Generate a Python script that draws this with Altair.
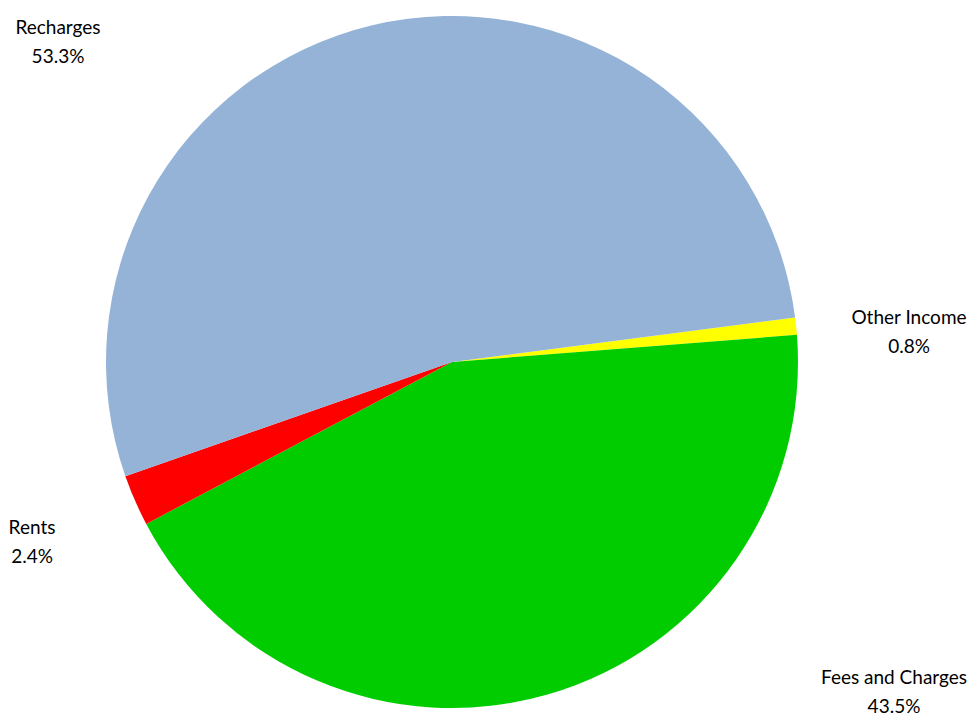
import altair as alt
import pandas as pd

categories = ["Other Income", "Fees and Charges", "Rents", "Recharges"]
shares = [0.8, 43.5, 2.4, 53.3]
colors = ["#FFFF00", "#00CC00", "#FF0000", "#95B3D7"]

df = pd.DataFrame({"category": categories, "share": shares, "order": list(range(len(categories)))})

start = 1.442  # rotation of first slice (radians, clockwise from top)
two_pi = 6.283185307

pie = alt.Chart(df).mark_arc(radius=346, stroke=None).encode(
    theta=alt.Theta("share:Q", stack=True, scale=alt.Scale(range=[start, start + two_pi])),
    order=alt.Order("order:Q"),
    color=alt.Color("category:N", scale=alt.Scale(domain=categories, range=colors), legend=None),
    x=alt.value(444),
    y=alt.value(354),
)

label_pos = {
    "Recharges": (50, 20),
    "Other Income": (901, 310),
    "Rents": (24, 520),
    "Fees and Charges": (886, 670),
}

layers = [pie]
for cat, val in zip(categories, shares):
    px, py = label_pos[cat]
    sub = pd.DataFrame({"txt": [f"{cat}\n{val:.1f}%"]})
    layers.append(
        alt.Chart(sub).mark_text(
            font="Lato", fontSize=19, color="#000000", align="center",
            baseline="middle", lineBreak="\n", lineHeight=29,
        ).encode(text="txt:N", x=alt.value(px), y=alt.value(py))
    )

chart = alt.layer(*layers).properties(
    width=961, height=711, padding=0, autosize=alt.AutoSizeParams(type="none")
).configure_view(stroke=None)

chart.save("out.html", embed_options={"renderer": "svg", "actions": False})
